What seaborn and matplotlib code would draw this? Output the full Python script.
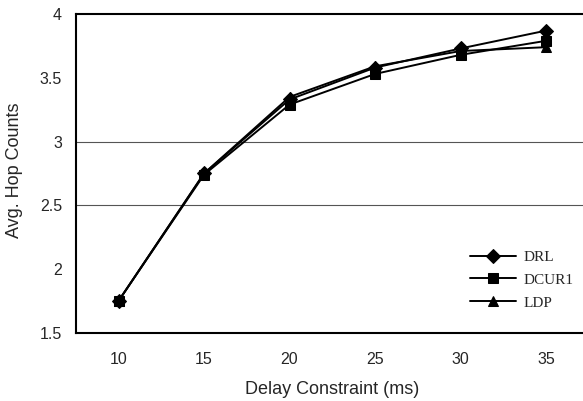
import matplotlib
matplotlib.use("Agg")
import matplotlib.pyplot as plt
import seaborn as sns
import pandas as pd

delays = [10, 15, 20, 25, 30, 35]
drl = [1.75, 2.75, 3.33, 3.58, 3.73, 3.87]
dcur1 = [1.75, 2.74, 3.29, 3.53, 3.68, 3.79]
ldp = [1.75, 2.75, 3.35, 3.59, 3.71, 3.74]
series_names = ["DRL", "DCUR1", "LDP"]
y_ticks = [1.5, 2, 2.5, 3, 3.5, 4]
y_tick_labels = ["1.5", "2", "2.5", "3", "3.5", "4"]

rows = []
for name, vals in zip(series_names, [drl, dcur1, ldp]):
    for d, v in zip(delays, vals):
        rows.append({"delay": d, "hops": v, "series": name})
df = pd.DataFrame(rows)

sns.set_style("white")
plt.rcParams['font.family'] = ['Liberation Sans', 'DejaVu Sans']

fig = plt.figure(figsize=(5.83, 4.01), dpi=100)
# axes: left spine ~x=76, bottom ~y=333, top ~y=14, extends past right edge
ax = fig.add_axes([0.130, 0.170, 0.880, 0.795])

for gy in [2.5, 3]:
    ax.axhline(gy, color="#555555", lw=0.8, zorder=0)

sns.lineplot(data=df, x="delay", y="hops", hue="series", style="series",
             hue_order=series_names, style_order=series_names,
             palette=["black"] * 3, markers={"DRL": "D", "DCUR1": "s", "LDP": "^"},
             dashes=False, markersize=7, linewidth=1.4, markeredgecolor="black",
             ax=ax)

ax.set_xlim(7.5, 37.5)
ax.set_ylim(1.5, 4)
ax.set_xticks(delays)
ax.set_xticklabels([str(d) for d in delays], fontsize=11.5)
ax.set_yticks(y_ticks)
ax.set_yticklabels(y_tick_labels, fontsize=11.5)
ax.tick_params(axis="y", length=0, pad=10)
ax.tick_params(axis="x", length=0, pad=14)
ax.set_xlabel("Delay Constraint (ms)", fontsize=13)
ax.xaxis.set_label_coords((332 - 76) / 513, -(381 - 333) / 319)
ax.set_ylabel("Avg. Hop Counts", fontsize=13)
ax.yaxis.set_label_coords(-(76 - 23) / 513, 0.51)

for s in ["left", "bottom", "top"]:
    ax.spines[s].set_color("black")
    ax.spines[s].set_linewidth(1.5)
ax.spines["right"].set_visible(False)

leg = ax.legend(loc="center left", bbox_to_anchor=((470 - 76) / 513, (333 - 280) / 319),
                frameon=False, prop={"family": "Liberation Serif", "size": 11},
                handlelength=3.0, labelspacing=0.6, handletextpad=0.5,
                borderpad=0, borderaxespad=0)

fig.savefig("out.png", dpi=100)
